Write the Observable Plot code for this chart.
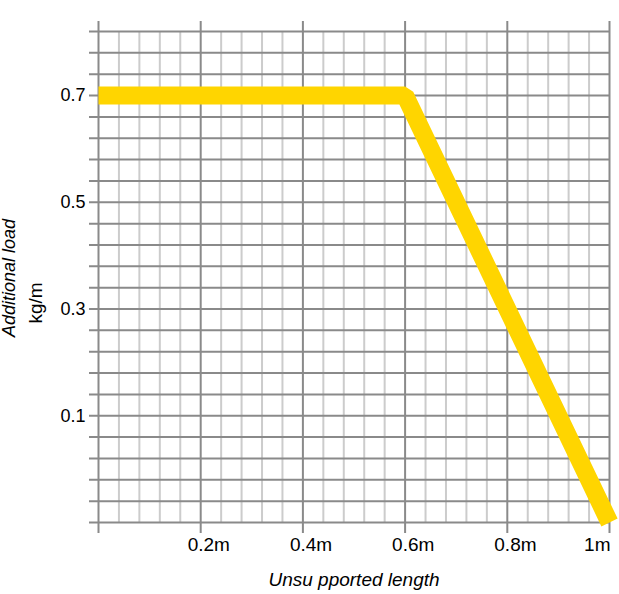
<!DOCTYPE html>
<html>
<head>
<meta charset="utf-8">
<script src="https://cdn.jsdelivr.net/npm/d3@7"></script>
<script src="https://cdn.jsdelivr.net/npm/@observablehq/plot@0.6"></script>
<style>
  html, body { margin: 0; padding: 0; background: #fff; }
  #chart svg { display: block; }
</style>
</head>
<body>
<div id="chart"></div>
<script>
// Data
const lengths = [0, 0.6, 1];          // unsupported length (m)
const loads = [0.7, 0.7, -0.1];       // additional load (kg/m)

// Axis ticks / grid values
const xMajor = [0, 0.2, 0.4, 0.6, 0.8, 1];
const xMinor = [0.04, 0.08, 0.12, 0.16, 0.24, 0.28, 0.32, 0.36, 0.44, 0.48, 0.52, 0.56,
                0.64, 0.68, 0.72, 0.76, 0.84, 0.88, 0.92, 0.96];
const xTickLabels = ["0.2m", "0.4m", "0.6m", "0.8m"];
const xTickValues = [0.2, 0.4, 0.6, 0.8];
const xLastLabel = ["1m"];
const xLastValue = [1];
const yGrid = [-0.1, -0.06, -0.02, 0.02, 0.06, 0.1, 0.14, 0.18, 0.22, 0.26, 0.3, 0.34,
               0.38, 0.42, 0.46, 0.5, 0.54, 0.58, 0.62, 0.66, 0.7, 0.74, 0.78, 0.82];
const yTicks = [0.1, 0.3, 0.5, 0.7];

const data = lengths.map((x, i) => ({x, y: loads[i]}));

const chart = Plot.plot({
  width: 619,
  height: 594,
  marginLeft: 98,
  marginRight: 10,
  marginTop: 31,
  marginBottom: 72,
  style: {fontFamily: "'Liberation Sans', Arial, sans-serif", fontSize: "19px", color: "#000", background: "#fff"},
  x: {domain: [0, 1], axis: null},
  y: {domain: [-0.1, 0.82], axis: null},
  marks: [
    Plot.ruleX(xMinor, {stroke: "#cccccc", strokeWidth: 2}),
    Plot.ruleY(yGrid, {stroke: "#8a8a8a", strokeWidth: 2, insetLeft: -9}),
    Plot.ruleX(xMajor, {stroke: "#8a8a8a", strokeWidth: 2, insetTop: -10, insetBottom: -11}),
    Plot.axisY(yTicks, {tickSize: 0, tickPadding: 13, label: null, tickFormat: d => String(d), fontSize: 18, fill: "#000"}),
    Plot.text(xTickLabels, {x: (d, i) => xTickValues[i], frameAnchor: "bottom", dy: 28, dx: -13, textAnchor: "start", fontSize: 19, fill: "#000"}),
    Plot.text(xLastLabel, {x: (d, i) => xLastValue[i], frameAnchor: "bottom", dy: 28, dx: 1, textAnchor: "end", fontSize: 19, fill: "#000"}),
    Plot.line(data, {x: "x", y: "y", stroke: "#ffd500", strokeWidth: 18, strokeLinejoin: "miter", strokeLinecap: "butt"}),
    Plot.text(["Additional load"], {frameAnchor: "left", textAnchor: "middle", dx: -89, dy: 1, rotate: -90, fontStyle: "italic", fontSize: 18, fill: "#000"}),
    Plot.text(["kg/m"], {frameAnchor: "left", textAnchor: "middle", dx: -63, dy: 26, rotate: -90, fontSize: 19, fill: "#000"}),
    Plot.text(["Unsu pported length"], {frameAnchor: "bottom", textAnchor: "middle", dy: 63, fontStyle: "italic", fontSize: 19, fill: "#000"})
  ]
});
document.getElementById("chart").appendChild(chart);
</script>
</body>
</html>
